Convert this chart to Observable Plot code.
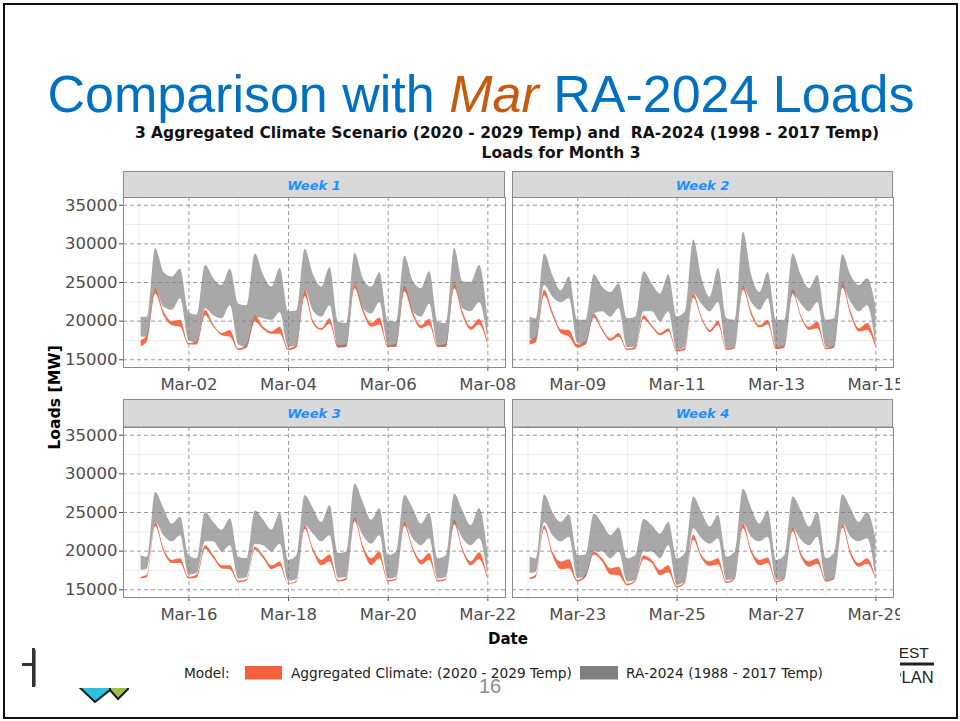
<!DOCTYPE html>
<html>
<head>
<meta charset="utf-8">
<script src="https://cdn.jsdelivr.net/npm/d3@7"></script>
<script src="https://cdn.jsdelivr.net/npm/@observablehq/plot@0.6"></script>
<style>
  html, body { margin: 0; padding: 0; background: #ffffff; }
  body { width: 960px; height: 721px; position: relative; overflow: hidden; font-family: "DejaVu Sans", sans-serif; }
  #bg, #overlay { position: absolute; left: 0; top: 0; }
  #overlay { pointer-events: none; }
  #overlay text { white-space: pre; }
  #chart { position: absolute; left: 0; top: 0; width: 900px; height: 688px; overflow: hidden; }
  #paper { position: absolute; left: 36px; top: 118px; width: 864px; height: 570px; background: #ffffff; }
  .panel { position: absolute; }
  .panel svg { max-width: none !important; overflow: visible; }
  #border { position: absolute; left: 3px; top: 3px; width: 955px; height: 716px; box-sizing: border-box; border: 2.5px solid #111; }
</style>
</head>
<body>
<svg id="bg" width="960" height="721"></svg>
<div id="chart"><div id="paper"></div></div>
<svg id="overlay" width="960" height="721"></svg>
<div id="border"></div>
<script>
// ---------------- data ----------------
const HOURS = [0, 4, 8, 12, 16, 20];            // sample hours within each day (last value = next midnight)
const WEEK_START = ["2020-03-01", "2020-03-08", "2020-03-15", "2020-03-22"];
const WEEK_LABELS = ["Week 1", "Week 2", "Week 3", "Week 4"];
const Y_TICKS = [15000, 20000, 25000, 30000, 35000];
const Y_MINOR = [17500, 22500, 27500, 32500];
const SERIES = ["Aggregated Climate: (2020 - 2029 Temp)", "RA-2024 (1988 - 2017 Temp)"];

// RA-2024 (gray) band, week 1
const W1_GRAY_HI = [20500,20500,29400,26300,25700,26700, 21100,20800,27200,25500,24600,26700, 22200,22000,28700,25900,24400,26800, 21200,21300,29300,26000,24400,26900, 19900,19700,28800,25500,24400,26300, 20000,19900,28400,25200,24200,26400, 19900,19700,29400,25100,25000,27200, 20300];
const W1_GRAY_LO = [17900,17900,24100,21800,21400,22900, 17500,17100,21600,20700,20300,22000, 16900,16600,20500,20300,20100,21100, 16600,16800,24000,21300,20500,22000, 16600,16600,24800,21600,20900,22400, 16800,16600,24200,21200,20500,22200, 16800,16600,24600,21600,21200,22400, 17700];
// Aggregated climate (red) band, week 1
const W1_RED_HI = [17500,18100,24200,21200,19900,20100, 17100,17300,21400,19500,18400,18800, 16400,16900,20700,19200,18600,19200, 16400,16900,24000,20000,19000,20300, 16800,17000,24800,21600,19700,20400, 16800,17000,24500,21200,19400,20200, 16800,17000,24800,21200,19200,20200, 17300];
const W1_RED_LO = [16700,17300,23500,20700,19400,19200, 16900,16900,20700,19200,18100,17900, 16200,16500,19900,18900,18300,18300, 16200,16500,23200,19600,18800,19600, 16500,16600,24200,21100,19200,19500, 16600,16600,23800,20700,19000,19400, 16600,16600,24200,20700,18800,19500, 16900];

// week 2
const W2_GRAY_HI = [20500,20300,28700,25900,23900,25700, 20100,20100,26000,24400,23700,24800, 20300,20500,26400,24800,23500,26000, 20500,21200,30500,25500,23100,26800, 20300,20100,31500,25900,23700,26300, 20100,20100,28700,25900,24200,25900, 20100,20300,28600,25900,24600,25500, 22000];
const W2_GRAY_LO = [17700,17500,24600,23100,22400,22900, 17100,16900,20900,21200,20500,21600, 16600,16600,21200,21200,19900,21200, 16200,16600,23500,22200,21200,22400, 16400,16600,24400,22400,21400,22900, 16600,16600,23500,22200,21200,22400, 16600,16600,24400,22400,21200,22000, 16900];
const W2_RED_HI = [17500,17900,24000,21200,18900,18800, 16900,17300,20900,19000,17700,18400, 16400,16600,20700,19400,18400,19000, 16200,16500,23500,20500,18800,20000, 16400,16600,24500,21200,19400,20100, 16600,16800,24100,20700,19200,19900, 16500,16800,24800,21200,19000,19700, 17100];
const W2_RED_LO = [16900,17200,23300,20700,18400,17900, 16500,16900,20400,18700,17400,17900, 16200,16300,20200,19100,18100,18600, 16000,16200,23000,20200,18500,19400, 16200,16400,24000,20700,19100,19500, 16300,16500,23500,20400,18800,19000, 16300,16500,24300,20700,18600,18800, 16600];

// week 3
const W3_GRAY_HI = [19400,19200,27600,25500,23500,24400, 19400,19000,25000,23700,22700,24200, 19200,19000,25200,24000,22700,24900, 18800,19400,27200,25500,23700,25900, 19700,19900,28700,26300,24000,25500, 19400,19900,27200,25500,23500,24900, 19000,19400,27400,25200,23300,25500, 19900];
const W3_GRAY_LO = [17500,17700,23700,22000,21200,22000, 16900,17100,21200,21200,19900,20700, 16400,16600,20900,20700,19900,20900, 16100,16300,23300,22200,21200,22000, 16500,16600,24000,22000,20900,22000, 16400,16600,23500,21600,20700,21600, 16400,16600,23500,21600,20700,21600, 16900];
const W3_RED_HI = [16600,16900,23700,20300,18800,19000, 16600,16900,20700,19400,18100,18100, 16100,16300,20500,19400,18100,18600, 15800,16100,23300,20300,18800,19500, 16200,16500,24300,20700,19000,19900, 16200,16400,23700,20500,18800,19700, 16200,16400,24000,20300,18600,19800, 16600];
const W3_RED_LO = [16400,16600,23200,19900,18400,18400, 16400,16500,20200,19000,17700,17600, 15900,16100,20100,19000,17600,18000, 15700,15900,22800,19900,18100,18600, 16000,16200,23800,20200,18100,19000, 16000,16200,23200,20100,18200,18800, 16000,16200,23400,19900,18100,18900, 16300];

// week 4
const W4_GRAY_HI = [19200,19000,27300,25000,23700,24700, 19400,19500,24800,23500,22000,23000, 19000,19400,24100,23300,22200,23700, 19000,19700,27000,25000,23100,24600, 19200,19900,28000,25500,23500,25200, 18800,19400,27000,25200,23100,25000, 19000,19700,27300,25500,23700,25000, 21600];
const W4_GRAY_LO = [17100,17300,23700,22000,21200,21800, 16500,16600,19900,19900,19000,19900, 16000,16200,19900,19900,19000,20700, 15600,16000,22900,21600,20900,21600, 16200,16400,23500,21800,21200,21800, 16200,16400,22900,21400,20700,21800, 16200,16400,23500,21800,21200,21600, 16600];
const W4_RED_HI = [16500,16900,23300,19900,18600,18900, 16200,16900,19900,19000,17700,17900, 15700,16200,19400,18800,17500,18100, 15400,16000,22100,19400,18600,19000, 16000,16500,23500,20100,18800,19100, 16100,16500,23000,19700,18600,19000, 16200,16500,23500,19900,18400,19000, 16500];
const W4_RED_LO = [16300,16600,22800,19400,17600,17700, 16000,16600,19500,18600,16900,16800, 15500,16000,18900,18400,16800,17200, 15200,15800,21400,19000,18000,18200, 15800,16300,22900,19700,18100,18400, 15900,16300,22500,19200,17900,18300, 16000,16300,23000,19400,17900,18300, 16300];

const WEEKS = [
  {gHi: W1_GRAY_HI, gLo: W1_GRAY_LO, rHi: W1_RED_HI, rLo: W1_RED_LO},
  {gHi: W2_GRAY_HI, gLo: W2_GRAY_LO, rHi: W2_RED_HI, rLo: W2_RED_LO},
  {gHi: W3_GRAY_HI, gLo: W3_GRAY_LO, rHi: W3_RED_HI, rLo: W3_RED_LO},
  {gHi: W4_GRAY_HI, gLo: W4_GRAY_LO, rHi: W4_RED_HI, rLo: W4_RED_LO}
];

// ---------------- styling / layout ----------------
const RED = "#F4603C";
const GRAY = "#7F7F7F";
const COLS = [{x: 123, w: 382, ml: 90}, {x: 512, w: 381, ml: 10}];
const ROWS = [{strip: 171, y: 197}, {strip: 399, y: 426.5}];
const PH = 170, MT = 2, MB = 34, MR = 40;

const HOUR = 3600e3;
function at(start, h) { return new Date(Date.parse(start + "T00:00:00Z") + h * HOUR); }
function build(start, lo, hi) {
  return lo.map((v, i) => ({t: at(start, Math.max(1, Math.floor(i / 6) * 24 + HOURS[i % 6])), lo: v, hi: hi[i]}));
}
const fmt = d3.utcFormat("%b-%d");

const chart = document.getElementById("chart");
WEEKS.forEach((wk, k) => {
  const col = COLS[k % 2], row = ROWS[Math.floor(k / 2)];
  const start = WEEK_START[k];
  const xTicks = [1, 3, 5, 7].map(d => at(start, d * 24));
  const xMinor = [0, 2, 4, 6].map(d => at(start, d * 24));
  const red = build(start, wk.rLo, wk.rHi);
  const gray = build(start, wk.gLo, wk.gHi);
  const left = k % 2 === 0;
  const p = Plot.plot({
    width: col.ml + col.w + MR,
    height: MT + PH + MB,
    marginLeft: col.ml, marginRight: MR, marginTop: MT, marginBottom: MB,
    style: {fontFamily: "DejaVu Sans, sans-serif", fontSize: "16.5px", color: "#4d4d4d", background: "transparent", overflow: "visible"},
    x: {type: "utc", domain: [at(start, 1 - 8.5), at(start, 168 + 8.5)], ticks: xTicks, tickFormat: fmt, tickSize: 4, tickPadding: 7, label: null},
    y: {domain: [14000, 36000], ticks: Y_TICKS, tickSize: 4, tickPadding: 2, tickFormat: d => String(d), label: null, axis: left ? "left" : null},
    marks: [
      Plot.ruleY(Y_MINOR, {stroke: "#ededed", strokeWidth: 1}),
      Plot.ruleX(xMinor, {stroke: "#ededed", strokeWidth: 1}),
      Plot.ruleY(Y_TICKS, {stroke: "#9a9a9a", strokeWidth: 1, strokeDasharray: "4,3"}),
      Plot.ruleX(xTicks, {stroke: "#9a9a9a", strokeWidth: 1, strokeDasharray: "4,3"}),
      Plot.areaY(red, {x: "t", y1: "lo", y2: "hi", fill: RED, fillOpacity: 0.92, curve: "monotone-x"}),
      Plot.areaY(gray, {x: "t", y1: "lo", y2: "hi", fill: GRAY, fillOpacity: 0.68, curve: "monotone-x"}),
      Plot.frame({stroke: "#8a8a8a", strokeWidth: 1})
    ]
  });
  const div = document.createElement("div");
  div.className = "panel";
  div.style.left = (col.x - col.ml) + "px";
  div.style.top = (row.y - MT) + "px";
  div.appendChild(p);
  chart.appendChild(div);
});

// ---------------- background logos (partly hidden by the chart paper) ----------------
const NS = "http://www.w3.org/2000/svg";
function el(parent, tag, attrs, text) {
  const e = document.createElementNS(NS, tag);
  for (const k in attrs) e.setAttribute(k, attrs[k]);
  if (text != null) e.textContent = text;
  parent.appendChild(e);
  return e;
}
const bg = document.getElementById("bg");
el(bg, "line", {x1: 33.5, y1: 648, x2: 33.5, y2: 687, stroke: "#333", "stroke-width": 3});
el(bg, "line", {x1: 22, y1: 664.5, x2: 34, y2: 664.5, stroke: "#333", "stroke-width": 3});
el(bg, "line", {x1: 36, y1: 650, x2: 36, y2: 686, stroke: "#d9732b", "stroke-width": 2});
el(bg, "polygon", {points: "76,684 95,702 110,690 110,684", fill: "#27c3e0", stroke: "#1b1b1b", "stroke-width": 2});
el(bg, "polygon", {points: "110,684 110,690 118,699 128,689 128,684", fill: "#9dc24a", stroke: "#1b1b1b", "stroke-width": 2});
el(bg, "text", {x: 884, y: 658, "font-family": "Liberation Sans, Arial, sans-serif", "font-size": 15.5, fill: "#222"}, "WEST");
el(bg, "rect", {x: 880, y: 662.5, width: 54, height: 3, fill: "#222"});
el(bg, "text", {x: 890.5, y: 683, "font-family": "Liberation Sans, Arial, sans-serif", "font-size": 16.5, fill: "#222"}, "PLAN");

// ---------------- overlay: strips, titles, legend ----------------
const ov = document.getElementById("overlay");
WEEK_LABELS.forEach((lab, k) => {
  const col = COLS[k % 2], row = ROWS[Math.floor(k / 2)];
  el(ov, "rect", {x: col.x + 0.5, y: row.strip + 0.5, width: col.w - 1, height: row.y - row.strip, fill: "#d9d9d9", stroke: "#8a8a8a", "stroke-width": 1});
  el(ov, "text", {x: col.x + col.w / 2, y: row.strip + 19, "text-anchor": "middle", "font-family": "DejaVu Sans, sans-serif", "font-size": 13, "font-weight": "bold", "font-style": "italic", fill: "#1E90FF"}, lab);
});

// slide title
const title = el(ov, "text", {x: 481, y: 112, "text-anchor": "middle", "font-family": "Liberation Sans, Arial, sans-serif", "font-size": 52, fill: "#0070C0"});
el(title, "tspan", {}, "Comparison with ");
el(title, "tspan", {"font-style": "italic", fill: "#C55A11"}, "Mar");
el(title, "tspan", {}, " RA-2024 Loads");

// chart title
const tf = {"text-anchor": "middle", "font-family": "DejaVu Sans, sans-serif", "font-size": 15.5, "font-weight": "bold", fill: "#111"};
el(ov, "text", Object.assign({x: 507, y: 137.5}, tf), "3 Aggregated Climate Scenario (2020 - 2029 Temp) and  RA-2024 (1998 - 2017 Temp)");
el(ov, "text", Object.assign({x: 561, y: 157.5}, tf), "Loads for Month 3");

// axis titles
el(ov, "text", {transform: "translate(60,397.5) rotate(-90)", "text-anchor": "middle", "font-family": "DejaVu Sans, sans-serif", "font-size": 15.7, "font-weight": "bold", fill: "#000"}, "Loads [MW]");
el(ov, "text", {x: 508, y: 643.5, "text-anchor": "middle", "font-family": "DejaVu Sans, sans-serif", "font-size": 15, "font-weight": "bold", fill: "#000"}, "Date");

// legend
const lf = {"font-family": "DejaVu Sans, sans-serif", "font-size": 13.7, fill: "#222"};
el(ov, "text", Object.assign({x: 184, y: 678}, lf), "Model:");
el(ov, "rect", {x: 245, y: 666, width: 37, height: 13.5, fill: RED});
el(ov, "text", Object.assign({x: 291, y: 678}, lf), SERIES[0]);
el(ov, "rect", {x: 580, y: 666, width: 38, height: 13.5, fill: GRAY});
el(ov, "text", Object.assign({x: 626, y: 678}, lf), SERIES[1]);

// page number
el(ov, "text", {x: 490, y: 693, "text-anchor": "middle", "font-family": "Liberation Sans, Arial, sans-serif", "font-size": 20, fill: "#8c8c8c"}, "16");
</script>
</body>
</html>
